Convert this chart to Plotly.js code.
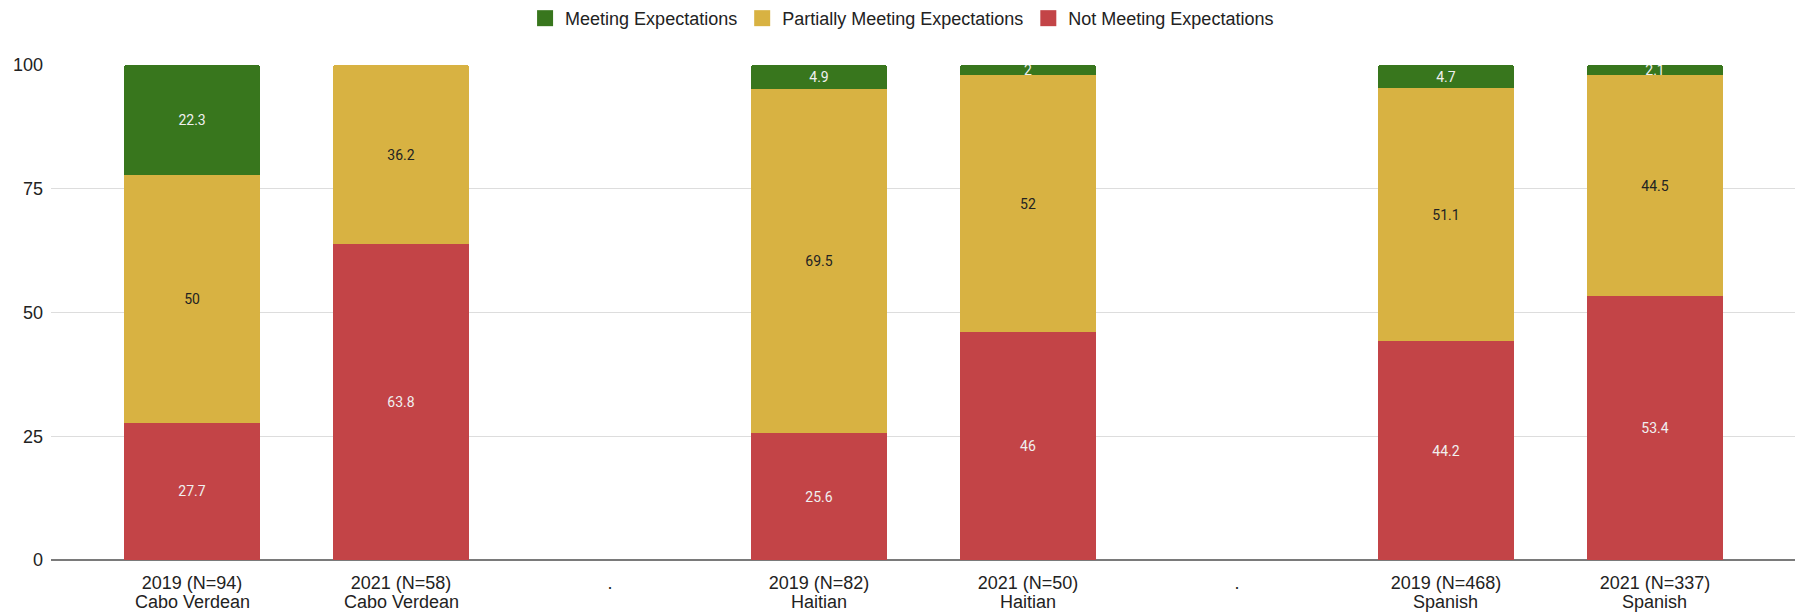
<!DOCTYPE html>
<html>
<head>
<meta charset="utf-8">
<script src="https://cdn.plot.ly/plotly-3.0.1.min.js"></script>
<style>
  html, body { margin: 0; padding: 0; background: #fff; }
  #chart { width: 1797px; height: 616px; }
</style>
</head>
<body>
<div id="chart"></div>
<script>
// Category keys (unique) and the two label lines drawn under them
const categories  = ['cv2019', 'cv2021', 'gap1', 'ht2019', 'ht2021', 'gap2', 'sp2019', 'sp2021'];
const yearLabels  = ['2019 (N=94)', '2021 (N=58)', '.', '2019 (N=82)', '2021 (N=50)', '.', '2019 (N=468)', '2021 (N=337)'];
const groupLabels = ['Cabo Verdean', 'Cabo Verdean', '', 'Haitian', 'Haitian', '', 'Spanish', 'Spanish'];

// Percentages per category
const notMeeting       = [27.7, 63.8, null, 25.6, 46,   null, 44.2, 53.4];
const partiallyMeeting = [50,   36.2, null, 69.5, 52,   null, 51.1, 44.5];
const meeting          = [22.3, null, null, 4.9,  2,    null, 4.7,  2.1];

const yTicks = [0, 25, 50, 75, 100];

const seriesNames = ['Not Meeting Expectations', 'Partially Meeting Expectations', 'Meeting Expectations'];
const seriesColors = ['#c34447', '#d8b242', '#38761d'];
const textColors = ['#f0f0f0', '#222222', '#f0f0f0'];
const seriesValues = [notMeeting, partiallyMeeting, meeting];

const barTraces = seriesValues.map((vals, i) => ({
  type: 'bar',
  name: seriesNames[i],
  x: categories,
  y: vals,
  text: vals.map(v => (v === null ? '' : String(v))),
  texttemplate: '%{text}',
  textposition: 'inside',
  insidetextanchor: 'middle',
  textangle: 0,
  constraintext: 'none',
  textfont: { family: 'Roboto, Arial, sans-serif', size: 14, color: textColors[i] },
  marker: { color: seriesColors[i], line: { width: 0 } },
  showlegend: false,
  hoverinfo: 'skip'
}));

// Legend entries (square swatches) for the three series
const legendTraces = seriesNames.map((n, i) => ({
  type: 'scatter',
  mode: 'markers',
  name: n,
  x: [null],
  y: [null],
  marker: { symbol: 'square', size: 18, color: seriesColors[i] },
  showlegend: true,
  hoverinfo: 'skip'
}));

const groupAnnotations = categories.map((c, i) => ({
  x: c,
  xref: 'x',
  y: 0,
  yref: 'paper',
  yanchor: 'middle',
  yshift: -42,
  text: groupLabels[i],
  showarrow: false,
  font: { family: 'Liberation Sans, Arial, sans-serif', size: 18, color: '#222222' }
})).filter(a => a.text !== '');

const layout = {
  width: 1797,
  height: 616,
  margin: { l: 51, r: 2, t: 65, b: 56, autoexpand: false },
  paper_bgcolor: '#ffffff',
  plot_bgcolor: '#ffffff',
  barmode: 'stack',
  bargap: 0.35,
  barcornerradius: 3,
  uniformtext: { minsize: 14, mode: 'show' },
  font: { family: 'Liberation Sans, Arial, sans-serif', size: 18, color: '#222222' },
  showlegend: true,
  legend: {
    orientation: 'h',
    traceorder: 'reversed',
    itemsizing: 'trace',
    x: 0.488,
    xanchor: 'center',
    y: 1.094,
    yanchor: 'middle',
    font: { family: 'Liberation Sans, Arial, sans-serif', size: 18, color: '#222222' },
    itemclick: false,
    itemdoubleclick: false
  },
  annotations: groupAnnotations,
  xaxis: {
    type: 'category',
    categoryorder: 'array',
    categoryarray: categories,
    tickvals: categories,
    ticktext: yearLabels,
    range: [-0.675, 7.67],
    showgrid: false,
    zeroline: false,
    showline: false,
    ticks: '',
    ticklabelstandoff: 10,
    tickfont: { family: 'Liberation Sans, Arial, sans-serif', size: 18, color: '#222222' },
    fixedrange: true
  },
  yaxis: {
    range: [0, 100],
    tickvals: yTicks,
    showgrid: true,
    gridcolor: '#dddddd',
    gridwidth: 1,
    zeroline: true,
    zerolinecolor: '#7a7a7a',
    zerolinewidth: 2,
    showline: false,
    ticks: '',
    ticklabelstandoff: 7,
    tickfont: { family: 'Liberation Sans, Arial, sans-serif', size: 18, color: '#222222' },
    fixedrange: true
  }
};

Plotly.newPlot('chart', barTraces.concat(legendTraces), layout, { displayModeBar: false, staticPlot: true });
</script>
</body>
</html>
